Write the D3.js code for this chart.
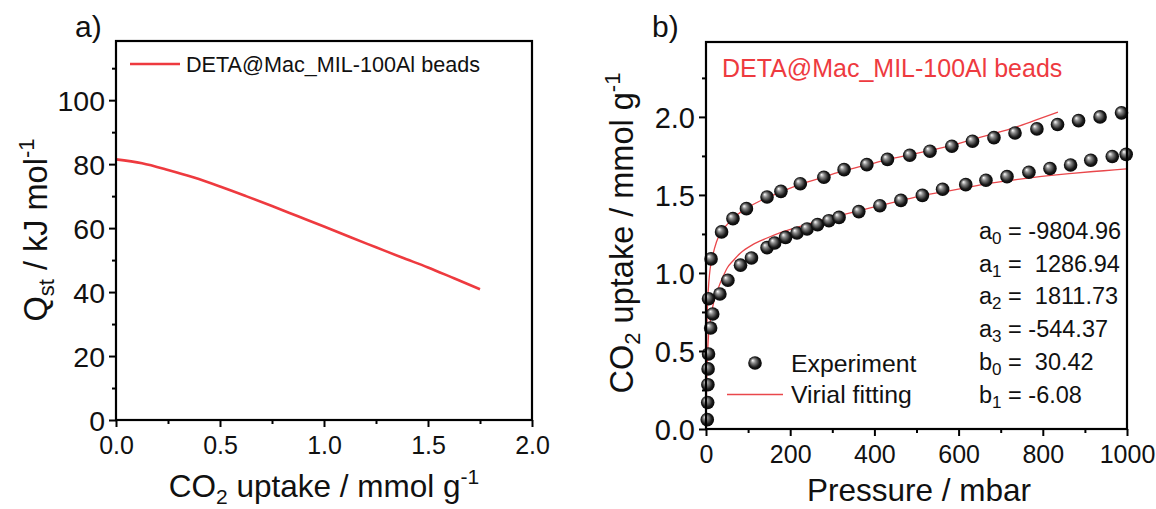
<!doctype html>
<html>
<head>
<meta charset="utf-8">
<title>Qst and virial fitting</title>
<script src="https://d3js.org/d3.v7.min.js"></script>
<style>
  body { margin: 0; background: #fff; }
  text { font-family: "Liberation Sans", Arial, sans-serif; fill: #111; }
  .tick text { font-family: "Liberation Sans", Arial, sans-serif; }
</style>
</head>
<body>
<svg></svg>
<script>
var w = 1156, h = 509;

// panel a: isosteric heat
var qstUptake = [0, 0.125, 0.25, 0.375, 0.5, 0.625, 0.75, 0.875, 1.0, 1.125, 1.25, 1.375, 1.5, 1.625, 1.75];
var qstValues = [81.5, 80.3, 78.2, 75.8, 73.0, 70.0, 66.9, 63.7, 60.5, 57.2, 54.0, 50.8, 47.7, 44.3, 40.9];

// panel b: experiment points (two isotherms)
var expHighP = [6, 12, 37, 64, 96, 145, 178, 224, 280, 328, 382, 431, 484, 532, 584, 633, 684, 734, 786, 835, 885, 936, 987];
var expHighQ = [0.835, 1.09, 1.263, 1.348, 1.412, 1.487, 1.523, 1.572, 1.613, 1.662, 1.694, 1.728, 1.754, 1.78, 1.812, 1.844, 1.867, 1.897, 1.923, 1.951, 1.976, 2.0, 2.026];
var expLowP = [3, 4, 4.5, 5, 6, 11, 16, 33, 52, 82, 108, 145, 163, 189, 216, 240, 265, 292, 316, 363, 413, 463, 514, 562, 617, 665, 715, 767, 817, 866, 914, 965, 998];
var expLowQ = [0.06, 0.17, 0.284, 0.385, 0.481, 0.647, 0.737, 0.865, 0.953, 1.05, 1.096, 1.162, 1.192, 1.228, 1.256, 1.282, 1.31, 1.335, 1.356, 1.393, 1.431, 1.465, 1.497, 1.536, 1.566, 1.594, 1.617, 1.645, 1.669, 1.692, 1.722, 1.746, 1.76];

// panel b: virial fitting curves
var fitHighP = [0, 0.5, 1, 2, 4, 7, 10, 15, 25, 37, 50, 64, 80, 96, 120, 145, 178, 224, 280, 328, 382, 431, 484, 532, 584, 633, 684, 733, 786, 836];
var fitHighQ = [0, 0.35, 0.5, 0.65, 0.82, 0.95, 1.03, 1.1, 1.2, 1.268, 1.31, 1.35, 1.385, 1.415, 1.45, 1.482, 1.52, 1.568, 1.615, 1.655, 1.692, 1.726, 1.757, 1.785, 1.818, 1.855, 1.893, 1.932, 1.982, 2.03];
var fitLowP = [0, 1, 2, 4, 6, 9, 13, 18, 25, 33, 42, 50, 65, 82, 110, 145, 180, 216, 265, 316, 365, 413, 464, 514, 565, 615, 665, 715, 765, 820, 870, 920, 970, 1000];
var fitLowQ = [0, 0.2, 0.33, 0.5, 0.6, 0.67, 0.74, 0.81, 0.87, 0.93, 0.985, 1.03, 1.08, 1.128, 1.18, 1.224, 1.262, 1.292, 1.33, 1.367, 1.4, 1.431, 1.465, 1.496, 1.52, 1.545, 1.571, 1.59, 1.608, 1.625, 1.638, 1.65, 1.66, 1.667];

// fitted parameters
var paramNames = ['a', 'a', 'a', 'a', 'b', 'b'];
var paramSubs = ['0', '1', '2', '3', '0', '1'];
var paramValues = ['-9804.96', ' 1286.94', ' 1811.73', '-544.37', ' 30.42', '-6.08'];

var red = '#ee3a3f';
var fitRed = '#e9474b';

var svg = d3.select('svg').attr('width', w).attr('height', h);

var defs = svg.append('defs');
var grad = defs.append('radialGradient').attr('id', 'ball')
    .attr('cx', '0.5').attr('cy', '0.5').attr('r', '0.55')
    .attr('fx', '0.32').attr('fy', '0.3');
grad.append('stop').attr('offset', '0').attr('stop-color', '#ffffff');
grad.append('stop').attr('offset', '0.3').attr('stop-color', '#8a8a8a');
grad.append('stop').attr('offset', '0.7').attr('stop-color', '#1a1a1a');
grad.append('stop').attr('offset', '1').attr('stop-color', '#000');

function toPairs(xs, ys) {
    return xs.map(function(d, i) { return [d, ys[i]]; });
}

function drawFrame(x, y, xMajor, xMinor, yMajor, yMinor, xFmt, yFmt, xFont, yFont) {
    var x0 = x.range()[0], x1 = x.range()[1];
    var y0 = y.range()[0], y1 = y.range()[1];

    var ax = svg.append('g').attr('transform', 'translate(0,' + y0 + ')');
    ax.call(d3.axisBottom(x).tickValues(xMajor).tickSize(7).tickSizeOuter(0).tickPadding(9).tickFormat(xFmt));
    ax.append('g').call(d3.axisBottom(x).tickValues(xMinor).tickSize(4).tickSizeOuter(0).tickFormat(''));

    var ay = svg.append('g').attr('transform', 'translate(' + x0 + ',0)');
    ay.call(d3.axisLeft(y).tickValues(yMajor).tickSize(7).tickSizeOuter(0).tickPadding(4).tickFormat(yFmt));
    ay.append('g').call(d3.axisLeft(y).tickValues(yMinor).tickSize(4).tickSizeOuter(0).tickFormat(''));

    svg.selectAll('.domain').remove();
    ax.selectAll('line').attr('stroke', '#000').attr('stroke-width', 2);
    ay.selectAll('line').attr('stroke', '#000').attr('stroke-width', 2);
    ax.selectAll('text').attr('font-size', xFont).attr('fill', '#111');
    ay.selectAll('text').attr('font-size', yFont).attr('fill', '#111').attr('dy', '0.36em');

    svg.append('rect')
        .attr('x', x0).attr('y', y1)
        .attr('width', x1 - x0).attr('height', y0 - y1)
        .attr('fill', 'none').attr('stroke', '#000').attr('stroke-width', 2.2);
}

// ---------- panel a ----------
var xA = d3.scaleLinear().domain([0, 2.0]).range([116, 532]);
var yA = d3.scaleLinear().domain([0, 118.5]).range([420, 41]);

svg.append('path')
    .datum(toPairs(qstUptake, qstValues))
    .attr('fill', 'none')
    .attr('stroke', red)
    .attr('stroke-width', 2.6)
    .attr('d', d3.line().curve(d3.curveMonotoneX)
        .x(function(d) { return xA(d[0]); })
        .y(function(d) { return yA(d[1]); }));

drawFrame(xA, yA,
    [0, 0.5, 1.0, 1.5, 2.0], [0.25, 0.75, 1.25, 1.75],
    [0, 20, 40, 60, 80, 100], [10, 30, 50, 70, 90, 110],
    d3.format('.1f'), d3.format('d'), 25, 28.5);

// legend a
svg.append('line').attr('x1', 130).attr('x2', 180).attr('y1', 64).attr('y2', 64)
    .attr('stroke', red).attr('stroke-width', 2.6);
svg.append('text').attr('x', 186).attr('y', 72).attr('font-size', 21.6)
    .text('DETA@Mac_MIL-100Al beads');

// axis titles a
var tA = svg.append('text').attr('x', 324).attr('y', 497).attr('font-size', 31.5).attr('text-anchor', 'middle');
tA.append('tspan').text('CO');
tA.append('tspan').attr('font-size', 21).attr('dy', 7).text('2');
tA.append('tspan').attr('dy', -7).text(' uptake / mmol g');
tA.append('tspan').attr('font-size', 21).attr('dy', -13).text('-1');

var yTA = svg.append('text').attr('transform', 'translate(47,230) rotate(-90)')
    .attr('font-size', 32.5).attr('text-anchor', 'middle');
yTA.append('tspan').text('Q');
yTA.append('tspan').attr('font-size', 22).attr('dy', 7).text('st');
yTA.append('tspan').attr('dy', -7).text(' / kJ mol');
yTA.append('tspan').attr('font-size', 22).attr('dy', -13).text('-1');

svg.append('text').attr('x', 75).attr('y', 37).attr('font-size', 30).text('a)');

// ---------- panel b ----------
var xB = d3.scaleLinear().domain([0, 1000]).range([706, 1127]);
var yB = d3.scaleLinear().domain([0, 2.48]).range([429, 42]);

var fitLine = d3.line().curve(d3.curveMonotoneX)
    .x(function(d) { return xB(d[0]); })
    .y(function(d) { return yB(d[1]); });

svg.append('path').datum(toPairs(fitHighP, fitHighQ))
    .attr('fill', 'none').attr('stroke', fitRed).attr('stroke-width', 1.3).attr('d', fitLine);
svg.append('path').datum(toPairs(fitLowP, fitLowQ))
    .attr('fill', 'none').attr('stroke', fitRed).attr('stroke-width', 1.3).attr('d', fitLine);

var pts = toPairs(expLowP, expLowQ).concat(toPairs(expHighP, expHighQ));
svg.append('g').selectAll('circle')
    .data(pts)
    .enter()
    .append('circle')
    .attr('cx', function(d) { return xB(d[0]); })
    .attr('cy', function(d) { return yB(d[1]); })
    .attr('r', 6.8)
    .attr('fill', 'url(#ball)');

drawFrame(xB, yB,
    [0, 200, 400, 600, 800, 1000], [100, 300, 500, 700, 900],
    [0, 0.5, 1.0, 1.5, 2.0], [0.25, 0.75, 1.25, 1.75, 2.25],
    d3.format('d'), d3.format('.1f'), 25, 29);

svg.append('text').attr('x', 722).attr('y', 77).attr('font-size', 25)
    .attr('fill', red).style('fill', red)
    .text('DETA@Mac_MIL-100Al beads');

// legend b
svg.append('circle').attr('cx', 755).attr('cy', 363).attr('r', 6.8).attr('fill', 'url(#ball)');
svg.append('text').attr('x', 791).attr('y', 372).attr('font-size', 24.8).text('Experiment');
svg.append('line').attr('x1', 727).attr('x2', 783).attr('y1', 394.5).attr('y2', 394.5)
    .attr('stroke', fitRed).attr('stroke-width', 1.3);
svg.append('text').attr('x', 791).attr('y', 403).attr('font-size', 24.8).text('Virial fitting');

// parameter block
var params = svg.append('g');
paramNames.forEach(function(n, i) {
    var t = params.append('text')
        .attr('x', 979).attr('y', 239 + i * 32.7)
        .attr('font-size', 23.5)
        .style('white-space', 'pre');
    t.append('tspan').text(n);
    t.append('tspan').attr('font-size', 17).attr('dy', 5).text(paramSubs[i]);
    t.append('tspan').attr('dy', -5).text(' = ' + paramValues[i]);
});

// axis titles b
svg.append('text').attr('x', 919).attr('y', 501).attr('font-size', 31.5).attr('text-anchor', 'middle')
    .text('Pressure / mbar');

var yTB = svg.append('text').attr('transform', 'translate(633,233) rotate(-90)')
    .attr('font-size', 32.5).attr('text-anchor', 'middle');
yTB.append('tspan').text('CO');
yTB.append('tspan').attr('font-size', 22).attr('dy', 7).text('2');
yTB.append('tspan').attr('dy', -7).text(' uptake / mmol g');
yTB.append('tspan').attr('font-size', 22).attr('dy', -13).text('-1');

svg.append('text').attr('x', 652).attr('y', 37).attr('font-size', 30).text('b)');
</script>
</body>
</html>
